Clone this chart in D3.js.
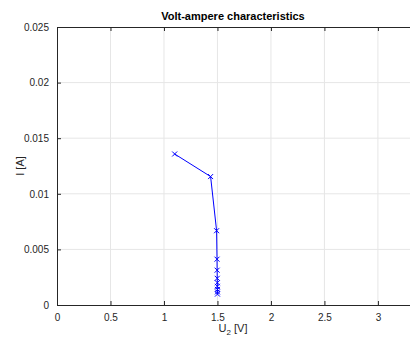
<!DOCTYPE html>
<html>
<head>
<meta charset="utf-8">
<script src="https://cdn.jsdelivr.net/npm/d3@7"></script>
<style>
  body { margin: 0; background: #fff; }
  svg text { font-family: "Liberation Sans", Arial, sans-serif; }
</style>
</head>
<body>
<div id="chart"></div>
<script>
// measured points, U2 in volts and I in amperes
const voltage = [1.10, 1.436, 1.492, 1.496, 1.497, 1.498, 1.499, 1.499, 1.500, 1.500, 1.500];
const current = [0.01358, 0.01155, 0.00668, 0.00412, 0.00313, 0.00240, 0.00200, 0.00168, 0.00140, 0.00118, 0.00098];
const xTicks = [0, 0.5, 1, 1.5, 2, 2.5, 3];
const yTicks = [0, 0.005, 0.01, 0.015, 0.02, 0.025];

const W = 410, H = 340;
const margin = { top: 27, right: 0, bottom: 35, left: 57 };

const svg = d3.select("#chart").append("svg")
  .attr("width", W)
  .attr("height", H);

const x = d3.scaleLinear()
  .domain([0, 3.3])
  .range([margin.left, W - margin.right]);

const y = d3.scaleLinear()
  .domain([0, 0.025])
  .range([H - margin.bottom, margin.top]);

const axisColor = "#262626";

// grid
svg.append("g").selectAll("line.gx")
  .data(xTicks.slice(1))
  .enter().append("line")
  .attr("x1", d => x(d)).attr("x2", d => x(d))
  .attr("y1", y(0)).attr("y2", y(0.025))
  .attr("stroke", "#e6e6e6").attr("stroke-width", 1);

svg.append("g").selectAll("line.gy")
  .data(yTicks.slice(1, -1))
  .enter().append("line")
  .attr("x1", x(0)).attr("x2", W)
  .attr("y1", d => y(d)).attr("y2", d => y(d))
  .attr("stroke", "#e6e6e6").attr("stroke-width", 1);

// bottom axis with inward ticks
const xAxis = svg.append("g")
  .attr("transform", `translate(0,${y(0)})`)
  .call(d3.axisBottom(x).tickValues(xTicks).tickSizeInner(-4).tickSizeOuter(0).tickPadding(9)
    .tickFormat(d3.format("")));
xAxis.select(".domain").attr("stroke", axisColor);
xAxis.selectAll(".tick line").attr("stroke", axisColor);
xAxis.selectAll("text").attr("fill", axisColor).attr("font-size", 10);

// top axis (box)
const xTop = svg.append("g")
  .attr("transform", `translate(0,${y(0.025)})`)
  .call(d3.axisTop(x).tickValues(xTicks).tickSizeInner(-4).tickSizeOuter(0).tickFormat(""));
xTop.select(".domain").attr("stroke", axisColor);
xTop.selectAll(".tick line").attr("stroke", axisColor);

// left axis
const yAxis = svg.append("g")
  .attr("transform", `translate(${x(0)},0)`)
  .call(d3.axisLeft(y).tickValues(yTicks).tickSizeInner(-4).tickSizeOuter(0).tickPadding(8)
    .tickFormat(d => d === 0 ? "0" : String(+d.toFixed(3))));
yAxis.select(".domain").attr("stroke", axisColor);
yAxis.selectAll(".tick line").attr("stroke", axisColor);
yAxis.selectAll("text").attr("fill", axisColor).attr("font-size", 10);

// title
svg.append("text")
  .attr("x", 233).attr("y", 20)
  .attr("text-anchor", "middle")
  .attr("font-size", 11).attr("font-weight", "bold")
  .attr("fill", "#000")
  .text("Volt-ampere characteristics");

// axis labels
const xl = svg.append("text")
  .attr("x", 233).attr("y", 332)
  .attr("text-anchor", "middle")
  .attr("font-size", 11).attr("fill", axisColor);
xl.append("tspan").text("U");
xl.append("tspan").attr("dy", 3).attr("font-size", 8).text("2");
xl.append("tspan").attr("dy", -3).text(" [V]");

svg.append("text")
  .attr("transform", `translate(24,${(y(0) + y(0.025)) / 2}) rotate(-90)`)
  .attr("text-anchor", "middle")
  .attr("font-size", 11).attr("fill", axisColor)
  .text("I [A]");

// series
const pts = voltage.map((v, i) => ({ v, c: current[i] }));

svg.append("path")
  .datum(pts)
  .attr("fill", "none")
  .attr("stroke", "#0000ff")
  .attr("stroke-width", 1)
  .attr("d", d3.line().x(d => x(d.v)).y(d => y(d.c)));

const s = 2.5;
svg.append("g").selectAll("path.m")
  .data(pts)
  .enter().append("path")
  .attr("d", d => {
    const cx = x(d.v), cy = y(d.c);
    return `M${cx - s},${cy - s}L${cx + s},${cy + s}M${cx - s},${cy + s}L${cx + s},${cy - s}`;
  })
  .attr("stroke", "#0000ff")
  .attr("stroke-width", 1)
  .attr("fill", "none");
</script>
</body>
</html>
